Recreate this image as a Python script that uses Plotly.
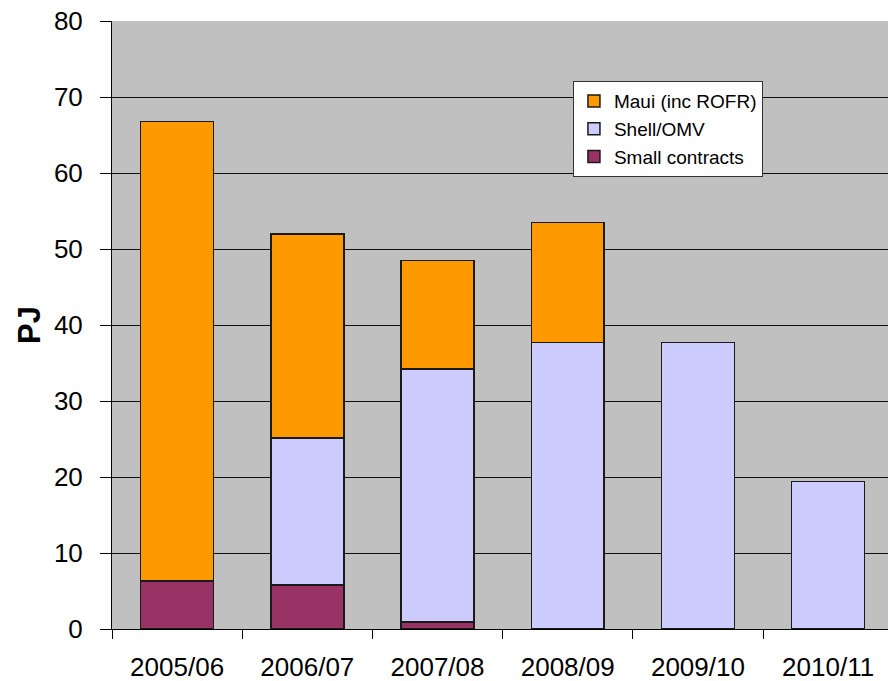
import plotly.graph_objects as go

categories = ["2005/06", "2006/07", "2007/08", "2008/09", "2009/10", "2010/11"]
small_contracts = [6.3, 5.8, 0.9, 0, 0, 0]
shell_omv = [0, 19.3, 33.3, 37.7, 37.7, 19.4]
maui = [60.5, 26.9, 14.3, 15.8, 0, 0]
y_ticks = [0, 10, 20, 30, 40, 50, 60, 70, 80]

FONT = "Liberation Sans, Arial, sans-serif"

fig = go.Figure()
fig.add_trace(go.Bar(name="Small contracts", x=categories, y=small_contracts, legendrank=3,
                     marker=dict(color="#993366", line=dict(color="#1a1a1a", width=1.5))))
fig.add_trace(go.Bar(name="Shell/OMV", x=categories, y=shell_omv, legendrank=2,
                     marker=dict(color="#CCCCFF", line=dict(color="#1a1a1a", width=1.5))))
fig.add_trace(go.Bar(name="Maui (inc ROFR)", x=categories, y=maui, legendrank=1,
                     marker=dict(color="#FF9900", line=dict(color="#1a1a1a", width=1.5))))

fig.update_layout(
    width=888, height=681,
    barmode="stack", bargap=0.44,
    paper_bgcolor="white", plot_bgcolor="#C0C0C0",
    margin=dict(l=112, r=0, t=21, b=52),
    font=dict(family=FONT, size=26, color="black"),
    showlegend=True,
    legend=dict(x=0.594, y=0.901, xanchor="left", yanchor="top",
                bgcolor="white", bordercolor="#333333", borderwidth=1,
                traceorder="normal",
                font=dict(size=19, family=FONT)),
)
fig.update_xaxes(type="category", range=[-0.5, 5.46], tickson="boundaries",
                 ticks="outside", ticklen=9, tickcolor="black", showgrid=False,
                 showline=True, linecolor="black", linewidth=1, automargin=False,
                 tickfont=dict(size=26), ticklabelstandoff=15)
fig.update_yaxes(range=[0, 80], tickvals=y_ticks, ticks="outside", ticklen=11,
                 tickcolor="black", showgrid=True, gridcolor="#111111", gridwidth=1,
                 showline=True, linecolor="black", linewidth=1, zeroline=False,
                 automargin=False,
                 tickfont=dict(size=26), ticklabelstandoff=12, ticklabeloverflow="allow",
                 title=dict(text="<b>PJ</b>", font=dict(size=31), standoff=4))

fig.write_html("out.html", config={"displayModeBar": False},
               post_script="document.body.style.margin='0px';")
